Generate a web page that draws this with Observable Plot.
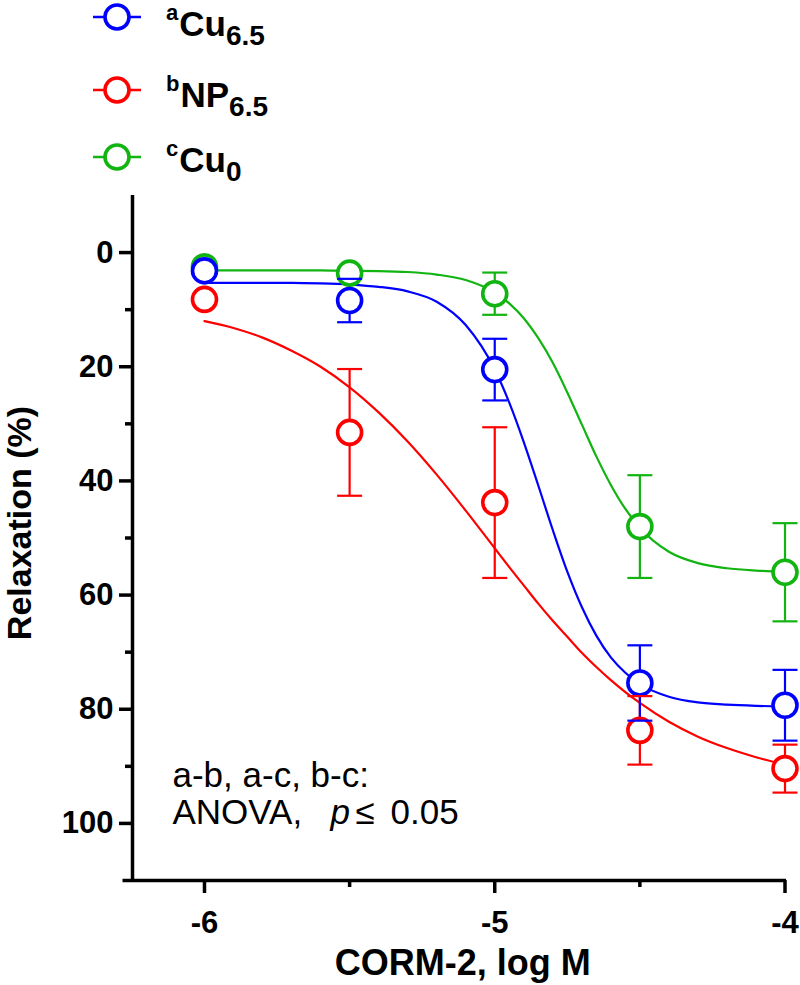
<!DOCTYPE html>
<html>
<head>
<meta charset="utf-8">
<script src="https://cdn.jsdelivr.net/npm/d3@7"></script>
<script src="https://cdn.jsdelivr.net/npm/@observablehq/plot@0.6"></script>
<style>
  html, body { margin: 0; padding: 0; background: #fff; }
  #wrap { width: 800px; height: 985px; position: relative; font-family: "Liberation Sans", Arial, sans-serif; }
  #legend { display: block; }
  #chart svg { display: block; }
</style>
</head>
<body>
<div id="wrap">
  <svg id="legend" width="800" height="190"></svg>
  <div id="chart"></div>
</div>
<script>
// ---- data ----
const seriesNames = ["Cu6.5", "NP6.5", "Cu0"];
const seriesColors = ["#0000ff", "#ff0000", "#11b411"];
const seriesSup = ["a", "b", "c"];
const seriesMain = ["Cu", "NP", "Cu"];
const seriesSub = ["6.5", "6.5", "0"];

const doses = [-6, -5.5, -5, -4.5, -4];
const cu65Mean = [3.2, 8.4, 20.5, 75.4, 79.3];
const cu65Sem  = [0, 3.8, 5.4, 6.6, 6.2];
const np65Mean = [8.2, 31.5, 43.8, 83.7, 90.4];
const np65Sem  = [0, 11.1, 13.2, 6.0, 4.2];
const cu0Mean  = [2.5, 3.6, 7.2, 48.0, 56.0];
const cu0Sem   = [0, 0, 3.7, 9.0, 8.6];

// fitted curves
const fitX     = [-6, -5.9, -5.8, -5.7, -5.6, -5.5, -5.4, -5.3, -5.2, -5.1, -5, -4.95, -4.9, -4.85, -4.8, -4.75, -4.7, -4.65, -4.6, -4.55, -4.5, -4.4, -4.3, -4.2, -4.1, -4];
const cu65Fit  = [5.3, 5.3, 5.3, 5.3, 5.4, 5.6, 6.0, 6.8, 8.6, 12.7, 20.5, 26.3, 33.2, 40.8, 48.6, 55.9, 62.1, 67.1, 70.9, 73.6, 75.6, 77.8, 78.8, 79.2, 79.4, 79.5];
const np65Fit  = [12.0, 13.2, 14.9, 17.2, 20.0, 23.6, 28.0, 33.1, 38.9, 45.2, 51.8, 55.1, 58.3, 61.5, 64.5, 67.3, 70.1, 72.6, 74.9, 77.0, 78.9, 82.2, 84.8, 86.8, 88.4, 89.7];
const cu0Fit   = [3.1, 3.1, 3.1, 3.1, 3.1, 3.2, 3.24, 3.4, 3.85, 4.8, 7.0, 8.9, 11.5, 15.0, 19.3, 24.5, 30.1, 35.7, 40.7, 44.9, 48.2, 52.4, 54.4, 55.3, 55.7, 55.9];

const yMajorTicks = [0, 20, 40, 60, 80, 100];
const yMinorTicks = [10, 30, 50, 70, 90];
const xMajorTicks = [-6, -5, -4];
const xMinorTicks = [-5.5, -4.5];
const xDomain = [-6.248, -4];
const yDomain = [-10, 110];

const xTitle = "CORM-2, log M";
const yTitle = "Relaxation (%)";
const noteLine1 = "a-b, a-c, b-c:";
const noteA = "ANOVA,";
const noteP = "p";
const noteLe = "\u2264";
const noteVal = "0.05";

// ---- tidy tables ----
const means = [cu65Mean, np65Mean, cu0Mean];
const sems = [cu65Sem, np65Sem, cu0Sem];
const fits = [cu65Fit, np65Fit, cu0Fit];
const drawOrder = [2, 1, 0]; // green, red, blue (blue on top)

const points = drawOrder.flatMap(s => doses.map((d, i) => ({
  series: seriesNames[s], dose: d, mean: means[s][i], sem: sems[s][i]
})));
const bars = points.filter(p => p.sem > 0);
const curves = drawOrder.flatMap(s => fitX.map((x, i) => ({series: seriesNames[s], x, y: fits[s][i]})));

const capSymbol = {
  draw(context, size) {
    const w = Math.sqrt(size / Math.PI);
    context.moveTo(-w, 0);
    context.lineTo(w, 0);
  }
};

const font = "Liberation Sans, Arial, sans-serif";
const noteSize = 35;

const chart = Plot.plot({
  width: 800,
  height: 795,
  marginTop: 5,
  marginBottom: 105,
  marginLeft: 132,
  marginRight: 15.5,
  style: {fontFamily: font, background: "white", color: "black", overflow: "visible"},
  x: {domain: xDomain},
  y: {domain: yDomain, reverse: true},
  color: {domain: seriesNames, range: seriesColors},
  marks: [
    // axes
    Plot.axisY({ticks: yMinorTicks, tickSize: 7, text: null, label: null, strokeWidth: 3.5}),
    Plot.axisY({ticks: yMajorTicks, tickSize: 13, tickPadding: 6, tickFormat: d => String(d), label: null,
      fontSize: 31, fontWeight: "bold", strokeWidth: 3.5}),
    Plot.axisX({ticks: xMinorTicks, tickSize: 7, text: null, label: null, strokeWidth: 3.5}),
    Plot.axisX({ticks: xMajorTicks, tickSize: 13, tickPadding: 17, tickFormat: d => String(d), label: null,
      fontSize: 31, fontWeight: "bold", strokeWidth: 3.5}),
    Plot.ruleX([xDomain[0]], {strokeWidth: 3.5}),
    Plot.ruleY([yDomain[1]], {strokeWidth: 3.5, insetLeft: -9.5, insetRight: -1.5}),
    // titles
    Plot.text([yTitle], {frameAnchor: "left", rotate: -90, dx: -102, dy: -15, fontSize: 34, fontWeight: "bold", textAnchor: "middle", lineAnchor: "bottom"}),
    Plot.text([xTitle], {frameAnchor: "bottom", dx: 4, dy: 83, fontSize: 36, fontWeight: "bold", lineAnchor: "middle"}),
    // annotation
    Plot.text([noteLine1], {frameAnchor: "bottom-left", dx: 40, dy: -94, fontSize: noteSize, textAnchor: "start", lineAnchor: "bottom"}),
    Plot.text([noteA], {frameAnchor: "bottom-left", dx: 40, dy: -57, fontSize: noteSize, textAnchor: "start", lineAnchor: "bottom"}),
    Plot.text([noteP], {frameAnchor: "bottom-left", dx: 198, dy: -57, fontSize: noteSize, fontStyle: "italic", textAnchor: "start", lineAnchor: "bottom"}),
    Plot.text([noteLe], {frameAnchor: "bottom-left", dx: 223, dy: -57, fontSize: noteSize, textAnchor: "start", lineAnchor: "bottom"}),
    Plot.text([noteVal], {frameAnchor: "bottom-left", dx: 258, dy: -57, fontSize: noteSize, textAnchor: "start", lineAnchor: "bottom"}),
    // curves
    Plot.line(curves, {x: "x", y: "y", z: "series", stroke: "series", strokeWidth: 2.2, curve: "monotone-x"}),
    // error stems
    Plot.ruleX(bars, {x: "dose", y1: d => d.mean - d.sem, y2: d => d.mean + d.sem, stroke: "series", strokeWidth: 2.2}),
    // points
    Plot.dot(points, {x: "dose", y: "mean", r: 12, stroke: "series", fill: "white", strokeWidth: 3.6}),
    // caps
    Plot.dot(bars, {x: "dose", y: d => d.mean - d.sem, symbol: capSymbol, r: 12.5, stroke: "series", fill: "none", strokeWidth: 2.2}),
    Plot.dot(bars, {x: "dose", y: d => d.mean + d.sem, symbol: capSymbol, r: 12.5, stroke: "series", fill: "none", strokeWidth: 2.2})
  ]
});
document.getElementById("chart").appendChild(chart);

// ---- legend (above the chart) ----
const leg = d3.select("#legend");
const legendY = [17, 90, 157];
const legendBase = [36, 107, 172];
seriesNames.forEach((name, i) => {
  const g = leg.append("g");
  g.append("line").attr("x1", 93).attr("x2", 141).attr("y1", legendY[i]).attr("y2", legendY[i])
    .attr("stroke", seriesColors[i]).attr("stroke-width", 2.5);
  g.append("circle").attr("cx", 117).attr("cy", legendY[i]).attr("r", 12)
    .attr("fill", "white").attr("stroke", seriesColors[i]).attr("stroke-width", 3.6);
  const t = g.append("text").attr("x", 166).attr("y", legendBase[i])
    .attr("font-family", font).attr("font-weight", "bold").attr("fill", "black");
  t.append("tspan").attr("font-size", 22).attr("dy", -16).text(seriesSup[i]);
  t.append("tspan").attr("font-size", 35).attr("dy", 16).attr("dx", 1).text(seriesMain[i]);
  t.append("tspan").attr("font-size", 28).attr("dy", 9).text(seriesSub[i]);
});
</script>
</body>
</html>
